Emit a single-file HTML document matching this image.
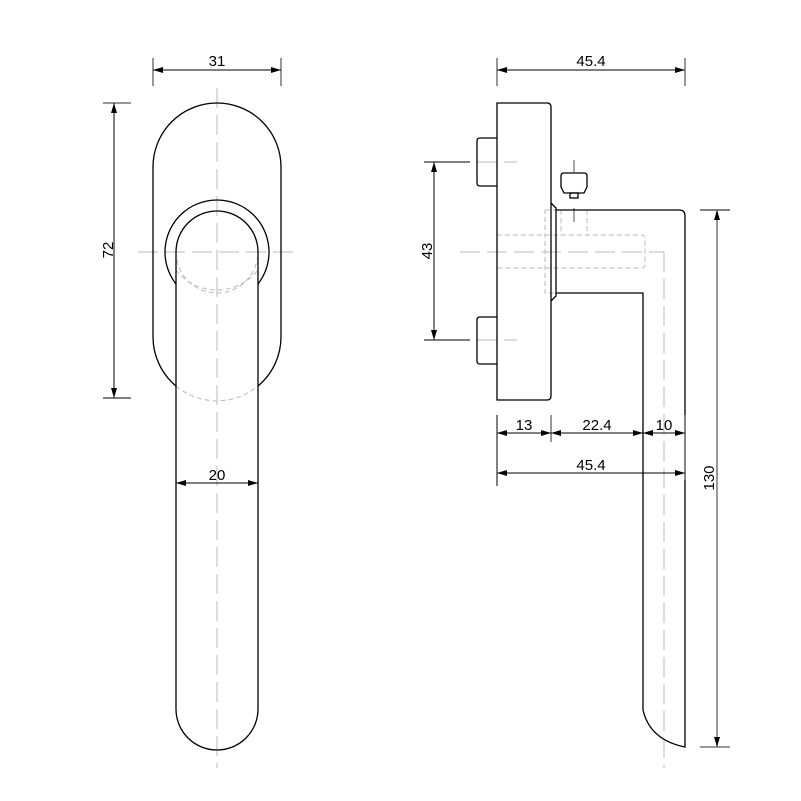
<!DOCTYPE html>
<html><head><meta charset="utf-8"><style>
html,body{margin:0;padding:0;background:#fff;}
svg{display:block;}
text{font-family:"Liberation Sans",sans-serif;font-size:15px;fill:#000;}
</style></head><body>
<svg width="801" height="801" viewBox="0 0 801 801" xmlns="http://www.w3.org/2000/svg">
<defs>
<marker id="a" viewBox="0 0 10 6" refX="10" refY="3" markerWidth="10" markerHeight="6" orient="auto-start-reverse" markerUnits="userSpaceOnUse"><path d="M0,0 L10,3 L0,6 z" fill="#000"/></marker>
</defs>
<!-- center lines -->
<g stroke="#bbb" stroke-width="1" fill="none" stroke-dasharray="20,7">
<line x1="217" y1="88" x2="217" y2="768"/>
<line x1="138" y1="252" x2="296" y2="252"/>
<line x1="460" y1="252" x2="664" y2="252"/>
<line x1="664" y1="252" x2="664" y2="768"/>
<line x1="450" y1="162" x2="517" y2="162"/>
<line x1="450" y1="340" x2="517" y2="340"/>
</g>
<line x1="574" y1="160" x2="574" y2="172" stroke="#777" stroke-width="1.3"/>
<line x1="574" y1="208" x2="574" y2="222" stroke="#777" stroke-width="1.3"/>
<!-- hidden lines -->
<g stroke="#bbb" stroke-width="1" fill="none" stroke-dasharray="5,3">
<path d="M176,252 A41,41 0 0 0 258,252"/>
<path d="M176,270 A52,52 0 0 0 258,270"/>
<path d="M176,386 A64,64 0 0 0 258,386"/>
<path d="M497,235 L641,235 Q645,235 645,239 L645,264 Q645,268 641,268 L497,268"/>
<rect x="545" y="210" width="11" height="83"/>
<line x1="561" y1="210" x2="561" y2="235"/>
<line x1="587" y1="210" x2="587" y2="235"/>
</g>
<!-- front view -->
<g stroke="#000" stroke-width="1.3" fill="none">
<path d="M176,386 A64,64 0 0 1 153,337 L153,167 A64,64 0 0 1 281,167 L281,337 A64,64 0 0 1 258,386"/>
<path d="M176,284 A52,52 0 1 1 258,284"/>
<path d="M176,709 L176,252 A41,41 0 0 1 258,252 L258,709 A41,41 0 0 1 176,709"/>
</g>
<!-- side view -->
<g stroke="#000" stroke-width="1.3" fill="none">
<path d="M497,103 L547,103 Q551,103 551,107 L551,396 Q551,400 547,400 L497,400 Z"/>
<path d="M497,138 L480,138 Q477,138 477,141 L477,183 Q477,186 480,186 L497,186"/>
<path d="M497,317 L480,317 Q477,317 477,320 L477,361 Q477,364 480,364 L497,364"/>
<path d="M551,203 L556,208 L556,296 L551,301"/>
<path d="M556,210 L679,210 Q685,210 685,216 L685,747 Q650,740 643,710 L643,293 L556,293"/>
<path d="M564,173 L584,173 Q587,173 587,176 L587,187 L584,193 L564,193 L561,187 L561,176 Q561,173 564,173 Z"/>
<rect x="570" y="193" width="8" height="5"/>
</g>
<!-- dimensions -->
<g stroke="#000" stroke-width="1" fill="none">
<line x1="153" y1="58" x2="153" y2="86" stroke="#777" stroke-width="1.5"/>
<line x1="281" y1="58" x2="281" y2="86" stroke="#777" stroke-width="1.5"/>
<line x1="153" y1="70" x2="281" y2="70" marker-start="url(#a)" marker-end="url(#a)"/>
<line x1="103" y1="103" x2="131" y2="103" stroke="#777" stroke-width="1.5"/>
<line x1="103" y1="398" x2="131" y2="398"/>
<line x1="114" y1="103" x2="114" y2="398" marker-start="url(#a)" marker-end="url(#a)"/>
<line x1="176" y1="483" x2="258" y2="483" marker-start="url(#a)" marker-end="url(#a)"/>
<line x1="497" y1="58" x2="497" y2="86" stroke="#777" stroke-width="1.5"/>
<line x1="685" y1="58" x2="685" y2="86" stroke="#777" stroke-width="1.5"/>
<line x1="497" y1="70" x2="685" y2="70" marker-start="url(#a)" marker-end="url(#a)"/>
<line x1="424" y1="162" x2="470" y2="162"/>
<line x1="424" y1="340" x2="470" y2="340"/>
<line x1="434" y1="162" x2="434" y2="340" marker-start="url(#a)" marker-end="url(#a)"/>
<line x1="497" y1="415" x2="497" y2="486"/>
<line x1="551" y1="415" x2="551" y2="442" stroke="#777" stroke-width="1.5"/>
<line x1="685" y1="415" x2="685" y2="480" stroke="#777" stroke-width="1.5"/>
<line x1="497" y1="433" x2="551" y2="433" marker-start="url(#a)" marker-end="url(#a)"/>
<line x1="551" y1="433" x2="643" y2="433" marker-start="url(#a)" marker-end="url(#a)"/>
<line x1="643" y1="433" x2="685" y2="433" marker-start="url(#a)" marker-end="url(#a)"/>
<line x1="497" y1="473" x2="685" y2="473" marker-start="url(#a)" marker-end="url(#a)"/>
<line x1="700" y1="210" x2="730" y2="210"/>
<line x1="700" y1="747" x2="730" y2="747" stroke="#777" stroke-width="1.5"/>
<line x1="717" y1="210" x2="717" y2="747" marker-start="url(#a)" marker-end="url(#a)" stroke="#777" stroke-width="1.5"/>
</g>
<text x="217" y="66" text-anchor="middle">31</text>
<text x="217" y="480" text-anchor="middle">20</text>
<text transform="translate(113,250) rotate(-90)" text-anchor="middle">72</text>
<text x="591" y="66" text-anchor="middle">45.4</text>
<text transform="translate(432,251) rotate(-90)" text-anchor="middle">43</text>
<text x="524" y="430" text-anchor="middle">13</text>
<text x="597" y="430" text-anchor="middle">22.4</text>
<text x="664" y="430" text-anchor="middle">10</text>
<text x="591" y="470" text-anchor="middle">45.4</text>
<text transform="translate(714,478) rotate(-90)" text-anchor="middle">130</text>
</svg>
</body></html>
